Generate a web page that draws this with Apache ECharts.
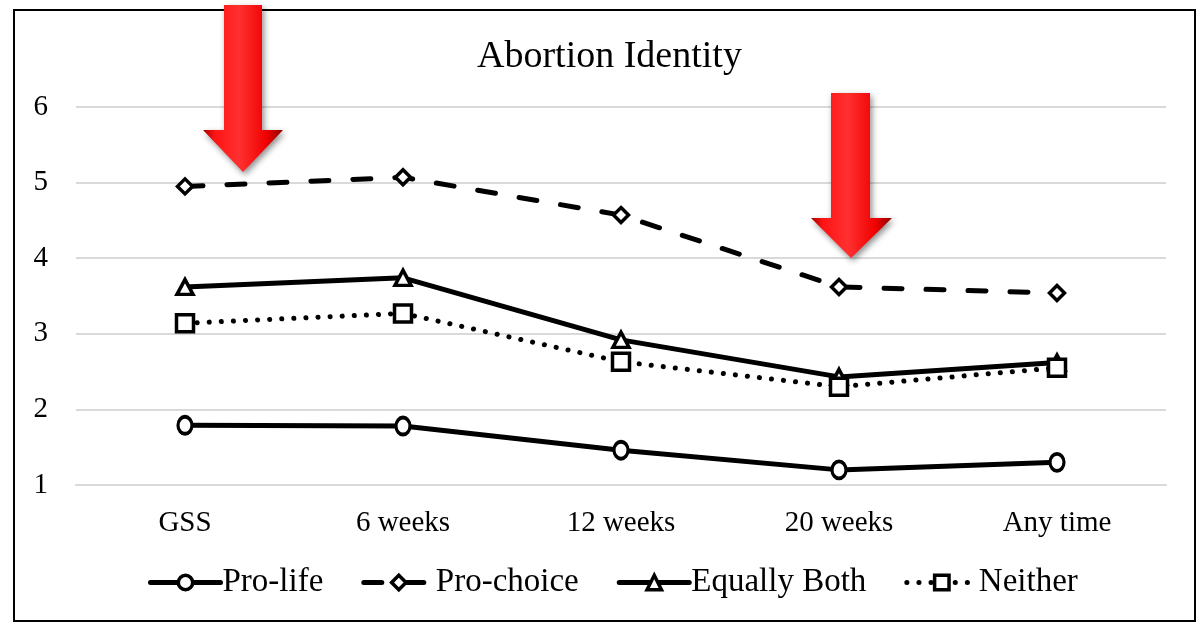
<!DOCTYPE html>
<html>
<head>
<meta charset="utf-8">
<title>Abortion Identity</title>
<script src="https://cdn.jsdelivr.net/npm/echarts@6/dist/echarts.min.js"></script>
<style>
  html, body { margin: 0; padding: 0; background: #ffffff; }
  #chart { width: 1201px; height: 623px; }
</style>
</head>
<body>
<div id="chart"></div>
<script>
// Categories (timing of the question) and mean scores per identity group
const categories = ['GSS', '6 weeks', '12 weeks', '20 weeks', 'Any time'];
const proLife     = [1.79, 1.78, 1.46, 1.20, 1.30];
const proChoice   = [4.95, 5.07, 4.57, 3.62, 3.54];
const equallyBoth = [3.62, 3.74, 2.92, 2.43, 2.62];
const neither     = [3.14, 3.27, 2.63, 2.30, 2.55];
const yTicks = [1, 2, 3, 4, 5, 6];

const FONT = '"Liberation Serif", "Times New Roman", serif';

const chart = echarts.init(document.getElementById('chart'), null, { renderer: 'canvas' });

function lineSeries(name, data, symbol, symbolSize, lineType) {
  return {
    name: name,
    type: 'line',
    data: data,
    symbol: symbol,
    symbolSize: symbolSize,
    showSymbol: true,
    lineStyle: { color: '#000000', width: 5, type: lineType, cap: 'round' },
    itemStyle: { color: '#ffffff', borderColor: '#000000', borderWidth: 3.5 },
    emphasis: { disabled: true },
    animation: false
  };
}

// Red downward pointer arrows with a bevelled look
const arrowFill = {
  type: 'linear', x: 0, y: 0, x2: 1, y2: 0,
  colorStops: [
    { offset: 0, color: '#a80000' },
    { offset: 0.15, color: '#ff1414' },
    { offset: 0.45, color: '#ff3030' },
    { offset: 0.8, color: '#f00000' },
    { offset: 1, color: '#8c0000' }
  ]
};
function arrow(shaftL, shaftR, top, headTop, headL, headR, tipX, tipY) {
  return {
    type: 'polygon',
    z: 100,
    shape: {
      points: [
        [shaftL, top], [shaftR, top], [shaftR, headTop], [headR, headTop],
        [tipX, tipY], [headL, headTop], [shaftL, headTop]
      ]
    },
    style: {
      fill: arrowFill,
      shadowBlur: 6,
      shadowOffsetX: 2,
      shadowOffsetY: 3,
      shadowColor: 'rgba(0,0,0,0.45)'
    }
  };
}

const option = {
  backgroundColor: '#ffffff',
  title: {
    text: 'Abortion Identity',
    left: 472,
    top: 33,
    textStyle: { fontFamily: FONT, fontSize: 38, fontWeight: 'normal', color: '#000000' }
  },
  grid: { left: 76, right: 35, top: 107, bottom: 138, containLabel: false },
  xAxis: {
    type: 'category',
    data: categories,
    boundaryGap: true,
    axisLine: { show: true, lineStyle: { color: '#d9d9d9', width: 2 } },
    axisTick: { show: false },
    axisLabel: { fontFamily: FONT, fontSize: 29, color: '#000000', margin: 24 }
  },
  yAxis: {
    type: 'value',
    min: yTicks[0],
    max: yTicks[yTicks.length - 1],
    interval: 1,
    axisLine: { show: false },
    axisTick: { show: false },
    splitLine: { show: true, lineStyle: { color: '#d9d9d9', width: 2 } },
    axisLabel: { fontFamily: FONT, fontSize: 29, color: '#000000', margin: 28 }
  },
  legend: {
    bottom: 19,
    left: 143,
    itemWidth: 70,
    itemHeight: 18,
    itemGap: 38,
    lineStyle: { width: 5 },
    itemStyle: { borderWidth: 3.5 },
    textStyle: { fontFamily: FONT, fontSize: 33, color: '#000000', padding: [0, 0, 0, -3] },
    data: ['Pro-life', 'Pro-choice', 'Equally Both', 'Neither']
  },
  series: [
    lineSeries('Pro-life', proLife, 'circle', [14, 17], 'solid'),
    lineSeries('Pro-choice', proChoice, 'diamond', 15, [18, 24]),
    lineSeries('Equally Both', equallyBoth, 'triangle', [16, 15], 'solid'),
    lineSeries('Neither', neither, 'rect', 17, [0.1, 12])
  ],
  graphic: [
    {
      type: 'rect',
      z: 90,
      shape: { x: 14, y: 10, width: 1181, height: 611 },
      style: { fill: 'none', stroke: '#000000', lineWidth: 2 }
    },
    arrow(224, 262, 5, 130, 203, 283, 243, 172),
    arrow(831, 870, 93, 218, 811, 892, 851, 258)
  ]
};

chart.setOption(option);
</script>
</body>
</html>
